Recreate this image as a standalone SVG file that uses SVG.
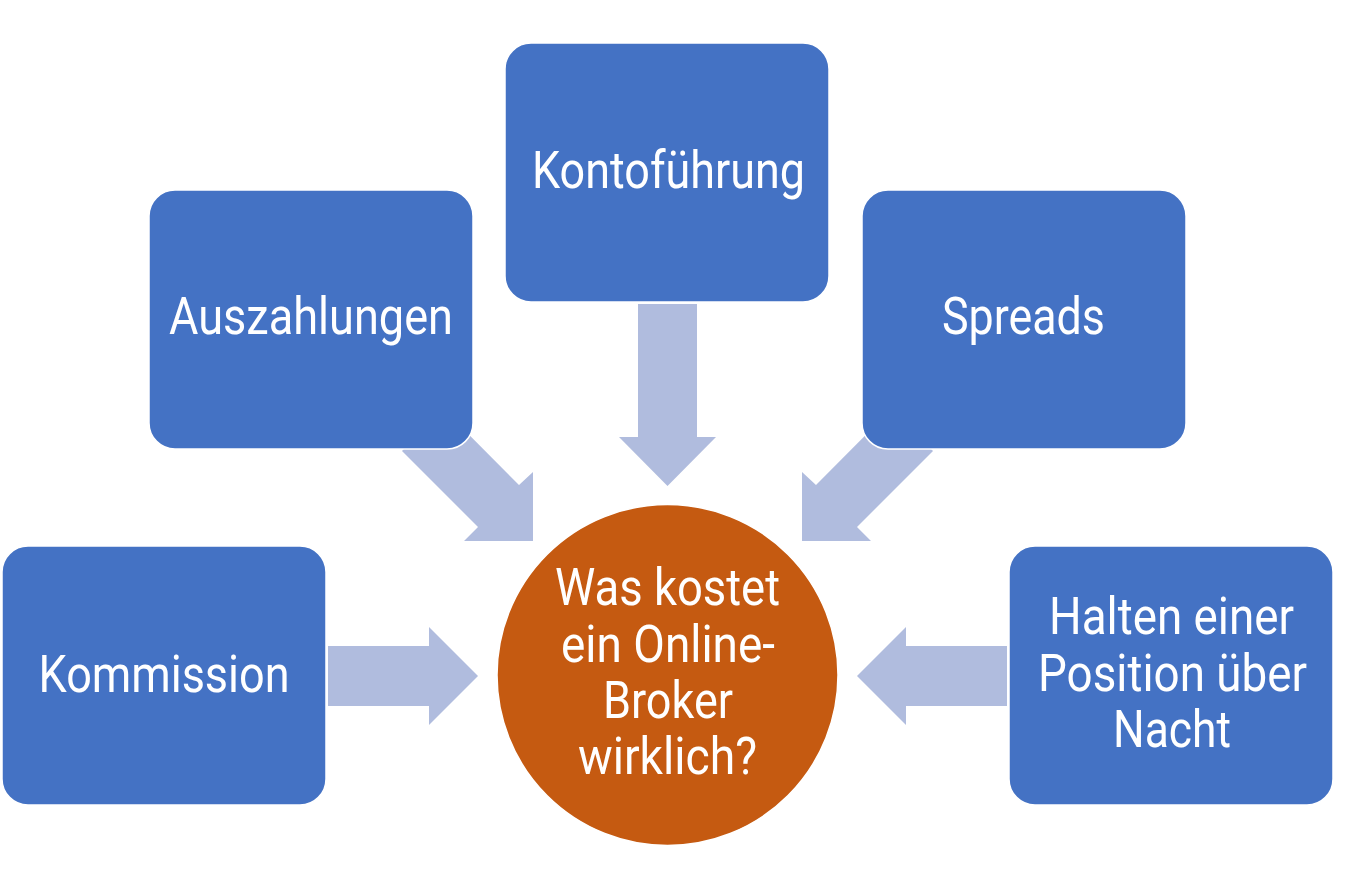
<svg xmlns="http://www.w3.org/2000/svg" width="1351" height="889" viewBox="0 0 1351 889">
<style>
.box{fill:#4472C4;stroke:#ffffff;stroke-width:1.5}
.arr{fill:#B0BCDE}
.t{font-family:Roboto,"Liberation Sans",sans-serif;font-size:52px;fill:#ffffff;text-anchor:middle}
</style>
<rect width="1351" height="889" fill="#ffffff"/>
<g id="connectors">
<polygon class="arr" points="328,646 429,646 429,627 478,676 429,725 429,706 328,706"/>
<polygon class="arr" points="1007,646 906,646 906,627 857,676 906,725 906,706 1007,706"/>
<polygon class="arr" points="638,304 697,304 697,437 716,437 667.5,486 619,437 638,437"/>
<polygon class="arr" points="402,451 443.7,409.3 519,485 533,472 533,541 464,541 478,527"/>
<polygon class="arr" points="933,451 891.3,409.3 816,485 802,472 802,541 871,541 857,527"/>
</g>
<g id="node-kommission">
<rect class="box" x="2" y="546" width="324" height="259" rx="26"/>
<text class="t" x="164" y="692" textLength="251" lengthAdjust="spacingAndGlyphs">Kommission</text>
</g>
<g id="node-auszahlungen">
<rect class="box" x="149" y="190" width="324" height="259" rx="26"/>
<text class="t" x="311" y="334" textLength="284" lengthAdjust="spacingAndGlyphs">Auszahlungen</text>
</g>
<g id="node-kontofuehrung">
<rect class="box" x="505" y="43" width="324" height="259" rx="26"/>
<text class="t" x="668.5" y="188" textLength="273" lengthAdjust="spacingAndGlyphs">Kontoführung</text>
</g>
<g id="node-spreads">
<rect class="box" x="862" y="190" width="324" height="259" rx="26"/>
<text class="t" x="1023.5" y="334" textLength="163" lengthAdjust="spacingAndGlyphs">Spreads</text>
</g>
<g id="node-halten">
<rect class="box" x="1009" y="546" width="324" height="259" rx="26"/>
<text class="t" x="1171.5" y="634" textLength="245" lengthAdjust="spacingAndGlyphs">Halten einer</text>
<text class="t" x="1172.5" y="691" textLength="269" lengthAdjust="spacingAndGlyphs">Position über</text>
<text class="t" x="1172" y="747" textLength="118" lengthAdjust="spacingAndGlyphs">Nacht</text>
</g>
<g id="node-center">
<circle cx="667.5" cy="675" r="170.5" fill="#C55A11" stroke="#ffffff" stroke-width="1.5"/>
<text class="t" x="667.5" y="605" textLength="225" lengthAdjust="spacingAndGlyphs">Was kostet</text>
<text class="t" x="668" y="662" textLength="214" lengthAdjust="spacingAndGlyphs">ein Online-</text>
<text class="t" x="668" y="718" textLength="130" lengthAdjust="spacingAndGlyphs">Broker</text>
<text class="t" x="667.5" y="774" textLength="179" lengthAdjust="spacingAndGlyphs">wirklich?</text>
</g>
</svg>
